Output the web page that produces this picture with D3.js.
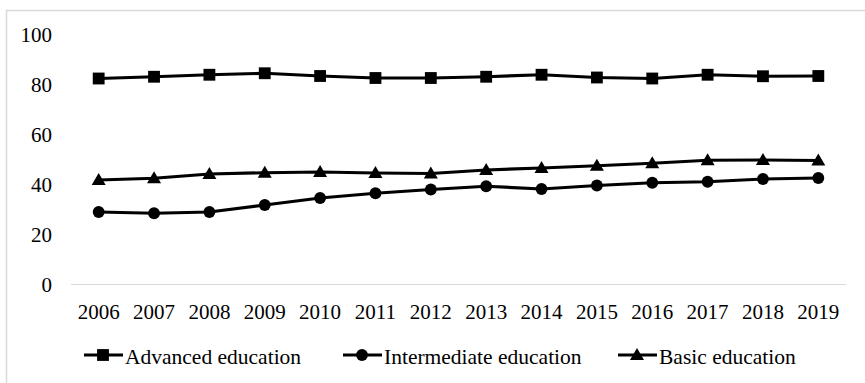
<!DOCTYPE html>
<html>
<head>
<meta charset="utf-8">
<script src="https://cdn.jsdelivr.net/npm/d3@7"></script>
<style>
  html, body { margin: 0; padding: 0; background: #fff; }
  svg { display: block; }
</style>
</head>
<body>
<svg id="chart" width="865" height="383" font-family="'Liberation Serif', 'Times New Roman', Tinos, 'DejaVu Serif', serif"></svg>
<script>
const years = ["2006","2007","2008","2009","2010","2011","2012","2013","2014","2015","2016","2017","2018","2019"];
const advanced = [82.4, 83.1, 83.9, 84.5, 83.4, 82.6, 82.6, 83.1, 83.9, 82.8, 82.4, 83.9, 83.3, 83.4];
const intermediate = [29.0, 28.5, 29.0, 31.8, 34.6, 36.5, 38.0, 39.3, 38.2, 39.6, 40.7, 41.1, 42.2, 42.6];
const basic = [41.8, 42.5, 44.2, 44.7, 45.0, 44.6, 44.4, 45.8, 46.6, 47.5, 48.5, 49.7, 49.8, 49.6];
const yTicks = [0, 20, 40, 60, 80, 100];
const seriesNames = ["Advanced education", "Intermediate education", "Basic education"];

const series = [
  { name: seriesNames[0], values: advanced, symbol: d3.symbolSquare, size: 140 },
  { name: seriesNames[1], values: intermediate, symbol: d3.symbolCircle, size: 110 },
  { name: seriesNames[2], values: basic, symbol: d3.symbolTriangle, size: 85 }
];

const svg = d3.select("#chart");

// outer frame
svg.append("rect")
  .attr("x", 6.5).attr("y", 10.5)
  .attr("width", 900).attr("height", 400)
  .attr("fill", "none").attr("stroke", "#d9d9d9").attr("stroke-width", 1.5);

const x = d3.scalePoint().domain(years).range([71, 846]).padding(0.5);
const y = d3.scaleLinear().domain([0, 100]).range([284.5, 34.5]);

// baseline
svg.append("line")
  .attr("x1", 71).attr("x2", 846)
  .attr("y1", y(0)).attr("y2", y(0))
  .attr("stroke", "#d9d9d9").attr("stroke-width", 1.2);

// y tick labels
svg.append("g").selectAll("text")
  .data(yTicks).join("text")
  .attr("x", 52).attr("y", d => y(d))
  .attr("dy", "0.34em")
  .attr("text-anchor", "end")
  .attr("font-size", 21)
  .attr("fill", "#000")
  .text(d => d);

// x tick labels
svg.append("g").selectAll("text")
  .data(years).join("text")
  .attr("x", d => x(d)).attr("y", 319)
  .attr("text-anchor", "middle")
  .attr("font-size", 21)
  .attr("fill", "#000")
  .text(d => d);

const line = d3.line().x((d, i) => x(years[i])).y(d => y(d));

series.forEach(s => {
  svg.append("path")
    .datum(s.values)
    .attr("d", line)
    .attr("fill", "none")
    .attr("stroke", "#000")
    .attr("stroke-width", 3.2);
  svg.append("g").selectAll("path")
    .data(s.values).join("path")
    .attr("transform", (d, i) => `translate(${x(years[i])},${y(d) + (s.symbol === d3.symbolTriangle ? 1 : 0)})`)
    .attr("d", d3.symbol().type(s.symbol).size(s.size))
    .attr("fill", "#000");
});

// legend
const legendX = [84, 343, 618];
const ly = 355;
series.forEach((s, i) => {
  const g = svg.append("g").attr("transform", `translate(${legendX[i]},${ly})`);
  g.append("line").attr("x1", 0).attr("x2", 39).attr("y1", 0).attr("y2", 0)
    .attr("stroke", "#000").attr("stroke-width", 3.2);
  g.append("path")
    .attr("transform", `translate(19,${s.symbol === d3.symbolTriangle ? 1 : 0})`)
    .attr("d", d3.symbol().type(s.symbol).size(s.size))
    .attr("fill", "#000");
  g.append("text")
    .attr("x", 41).attr("y", 9)
    .attr("font-size", 21.5)
    .attr("fill", "#000")
    .text(s.name);
});
</script>
</body>
</html>
